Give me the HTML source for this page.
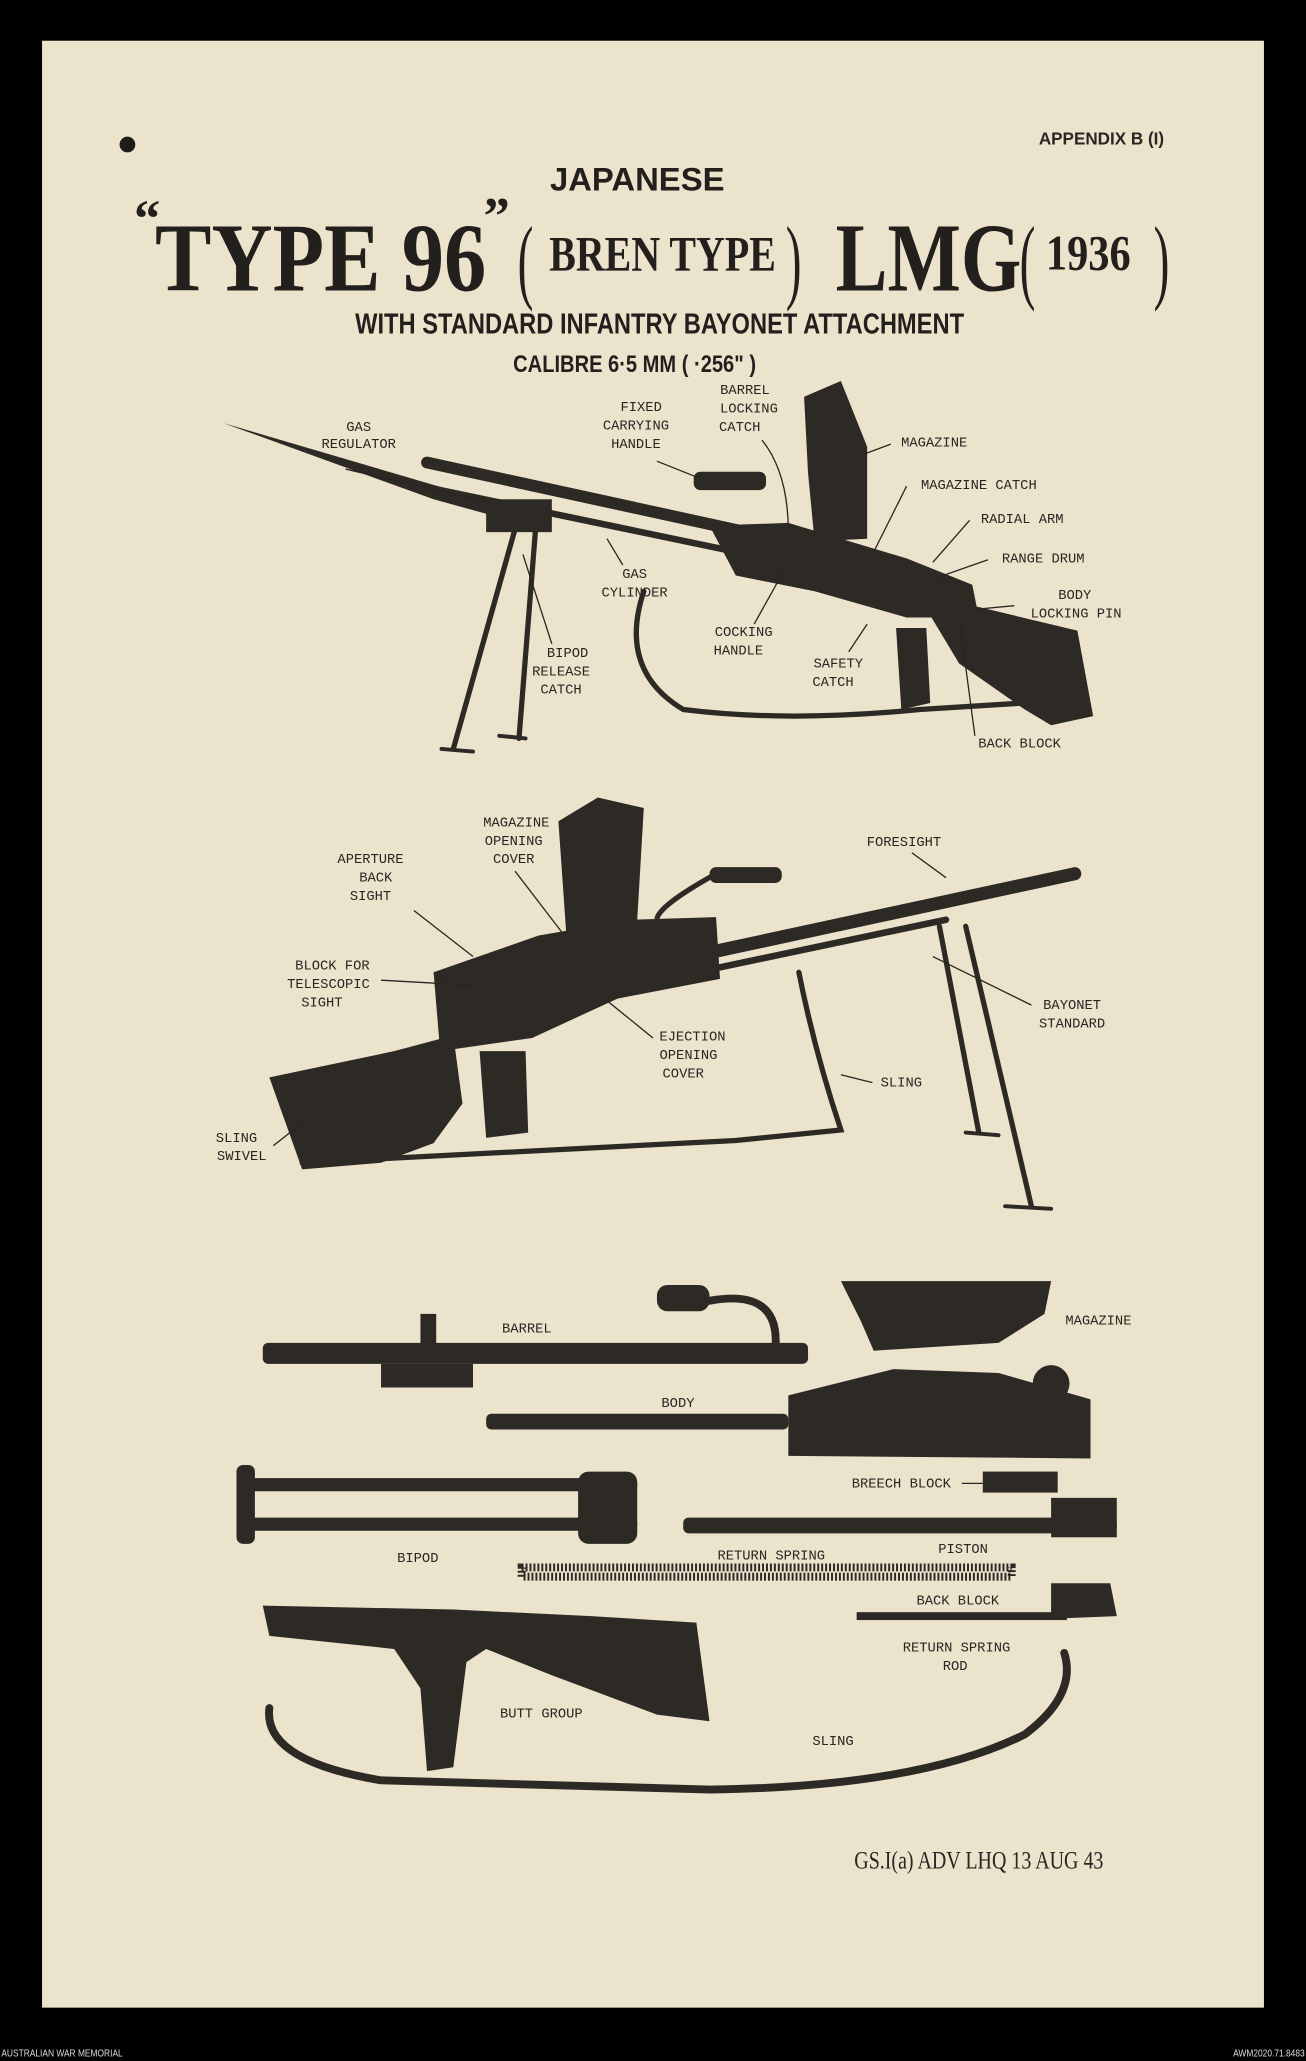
<!DOCTYPE html>
<html><head><meta charset="utf-8"><style>
html,body{margin:0;padding:0;background:#000;}
svg{display:block}
.l{font-family:"Liberation Mono",monospace;font-size:10.5px;fill:#2a2522;text-anchor:middle}
.ln{stroke:#2a2522;stroke-width:1;fill:none}
.g{fill:#2d2925}
.gs{stroke:#2d2925;fill:none;stroke-linecap:round}
</style></head><body>
<svg width="1306" height="2061" viewBox="0 0 994 1568.6" preserveAspectRatio="none" xmlns="http://www.w3.org/2000/svg">
<rect x="0" y="0" width="994" height="1568.6" fill="#000"/>
<rect x="32" y="31" width="930" height="1497" fill="#ece3cc"/>
<circle cx="97" cy="110" r="6" fill="#1e1b18"/>
<!-- titles -->
<text x="886" y="110" font-family="Liberation Sans,sans-serif" font-size="13" font-weight="bold" fill="#2a2522" text-anchor="end">APPENDIX B (I)</text>
<text x="485" y="145" font-family="Liberation Sans,sans-serif" font-size="25" font-weight="bold" fill="#231f1c" text-anchor="middle">JAPANESE</text>
<g font-family="Liberation Serif,serif" font-weight="bold" fill="#231f1c">
<text x="102" y="180" font-size="40">“</text>
<text transform="translate(118,221) scale(0.87,1)" font-size="74">TYPE 96</text>
<text x="368" y="178" font-size="40">”</text>
<text transform="translate(394,222) scale(0.5,1)" font-size="72" font-weight="normal">(</text>
<text transform="translate(418,206) scale(0.8,1)" font-size="38">BREN TYPE</text>
<text transform="translate(598,222) scale(0.5,1)" font-size="72" font-weight="normal">)</text>
<text transform="translate(636,221) scale(0.8,1)" font-size="74">LMG</text>
<text transform="translate(776,222) scale(0.5,1)" font-size="72" font-weight="normal">(</text>
<text transform="translate(796,205) scale(0.85,1)" font-size="38">1936</text>
<text transform="translate(878,222) scale(0.5,1)" font-size="72" font-weight="normal">)</text>
</g>
<text transform="translate(502,254) scale(0.82,1)" font-family="Liberation Sans,sans-serif" font-size="22" font-weight="bold" fill="#231f1c" text-anchor="middle">WITH STANDARD  INFANTRY  BAYONET ATTACHMENT</text>
<text transform="translate(483,283) scale(0.85,1)" font-family="Liberation Sans,sans-serif" font-size="18" font-weight="bold" fill="#231f1c" text-anchor="middle">CALIBRE  6·5 MM ( ·256" )</text>

<!-- GUN 1 -->
<g>
<polygon class="g" points="170,322 340,372 420,395 410,402 330,380"/>
<line class="gs" x1="325" y1="352" x2="600" y2="412" stroke-width="9"/>
<line class="gs" x1="330" y1="372" x2="560" y2="420" stroke-width="5"/>
<polygon class="g" points="540,400 600,398 690,425 740,445 745,470 690,470 620,450 560,438"/>
<polygon class="g" points="612,302 640,290 660,340 660,410 620,412 615,360"/>
<polygon class="g" points="700,455 745,462 820,480 832,545 800,552 780,540 730,505"/>
<polygon class="g" points="682,478 705,478 708,535 686,540"/>
<rect class="g" x="528" y="359" width="55" height="14" rx="5"/>
<line class="gs" x1="395" y1="392" x2="345" y2="570" stroke-width="4"/>
<line class="gs" x1="408" y1="398" x2="395" y2="562" stroke-width="4"/>
<rect class="g" x="370" y="380" width="50" height="25"/>
<path class="gs" d="M 490 450 Q 470 510 520 540 Q 600 550 700 540 L 780 535" stroke-width="4"/>
<line class="gs" x1="336" y1="570" x2="360" y2="572" stroke-width="3"/>
<line class="gs" x1="380" y1="560" x2="400" y2="562" stroke-width="3"/>
</g>
<text class="l" x="273" y="328">GAS</text><text class="l" x="273" y="341">REGULATOR</text>
<polyline class="ln" points="263,357 375,383"/>
<text class="l" x="488" y="313">FIXED</text><text class="l" x="484" y="327">CARRYING</text><text class="l" x="484" y="341">HANDLE</text>
<polyline class="ln" points="500,351 530,363"/>
<text class="l" x="567" y="300">BARREL</text><text class="l" x="570" y="314">LOCKING</text><text class="l" x="563" y="328">CATCH</text>
<path class="ln" d="M 580 335 Q 600 360 600 405"/>
<text class="l" x="711" y="340">MAGAZINE</text><line class="ln" x1="678" y1="338" x2="654" y2="347"/>
<text class="l" x="745" y="372">MAGAZINE CATCH</text><line class="ln" x1="690" y1="370" x2="665" y2="420"/>
<text class="l" x="778" y="398">RADIAL ARM</text><line class="ln" x1="738" y1="396" x2="710" y2="428"/>
<text class="l" x="794" y="428">RANGE DRUM</text><line class="ln" x1="752" y1="426" x2="712" y2="440"/>
<text class="l" x="818" y="456">BODY</text><text class="l" x="819" y="470">LOCKING PIN</text><line class="ln" x1="772" y1="461" x2="740" y2="464"/>
<text class="l" x="483" y="440">GAS</text><text class="l" x="483" y="454">CYLINDER</text><line class="ln" x1="474" y1="430" x2="462" y2="410"/>
<text class="l" x="432" y="500">BIPOD</text><text class="l" x="427" y="514">RELEASE</text><text class="l" x="427" y="528">CATCH</text>
<line class="ln" x1="420" y1="490" x2="398" y2="422"/>
<text class="l" x="566" y="484">COCKING</text><text class="l" x="562" y="498">HANDLE</text><line class="ln" x1="574" y1="475" x2="598" y2="432"/>
<text class="l" x="638" y="508">SAFETY</text><text class="l" x="634" y="522">CATCH</text><line class="ln" x1="646" y1="496" x2="660" y2="475"/>
<text class="l" x="776" y="569">BACK BLOCK</text><line class="ln" x1="742" y1="560" x2="730" y2="470"/>

<!-- GUN 2 -->
<g>
<line class="gs" x1="540" y1="725" x2="818" y2="665" stroke-width="10"/>
<line class="gs" x1="530" y1="740" x2="720" y2="700" stroke-width="5"/>
<polygon class="g" points="330,740 410,712 480,700 545,698 548,745 470,760 405,790 335,800"/>
<polygon class="g" points="425,625 455,607 490,615 485,700 432,725"/>
<polygon class="g" points="205,820 300,800 345,788 352,840 330,870 290,885 230,890"/>
<polygon class="g" points="365,800 400,800 402,862 370,866"/>
<path class="gs" d="M 500 700 Q 500 690 545 665" stroke-width="4"/>
<rect class="g" x="540" y="660" width="55" height="12" rx="5"/>
<line class="gs" x1="715" y1="705" x2="745" y2="862" stroke-width="4"/>
<line class="gs" x1="735" y1="705" x2="785" y2="918" stroke-width="4"/>
<line class="gs" x1="765" y1="918" x2="800" y2="920" stroke-width="3"/>
<line class="gs" x1="735" y1="862" x2="760" y2="864" stroke-width="3"/>
<path class="gs" d="M 608 740 Q 620 800 640 860 L 560 868 L 230 885" stroke-width="4"/>
</g>
<text class="l" x="393" y="629">MAGAZINE</text><text class="l" x="391" y="643">OPENING</text><text class="l" x="391" y="657">COVER</text>
<line class="ln" x1="392" y1="663" x2="428" y2="710"/>
<text class="l" x="688" y="644">FORESIGHT</text><line class="ln" x1="694" y1="649" x2="720" y2="668"/>
<text class="l" x="282" y="657">APERTURE</text><text class="l" x="286" y="671">BACK</text><text class="l" x="282" y="685">SIGHT</text>
<line class="ln" x1="315" y1="693" x2="360" y2="728"/>
<text class="l" x="253" y="738">BLOCK FOR</text><text class="l" x="250" y="752">TELESCOPIC</text><text class="l" x="245" y="766">SIGHT</text>
<line class="ln" x1="290" y1="746" x2="362" y2="750"/>
<text class="l" x="527" y="792">EJECTION</text><text class="l" x="524" y="806">OPENING</text><text class="l" x="520" y="820">COVER</text>
<line class="ln" x1="497" y1="790" x2="460" y2="760"/>
<text class="l" x="816" y="768">BAYONET</text><text class="l" x="816" y="782">STANDARD</text><line class="ln" x1="785" y1="765" x2="710" y2="728"/>
<text class="l" x="686" y="827">SLING</text><line class="ln" x1="664" y1="824" x2="640" y2="818"/>
<text class="l" x="180" y="869">SLING</text><text class="l" x="184" y="883">SWIVEL</text><line class="ln" x1="208" y1="872" x2="236" y2="850"/>

<!-- PARTS -->
<g>
<rect class="g" x="200" y="1022" width="415" height="16" rx="4"/>
<rect class="g" x="290" y="1038" width="70" height="18"/>
<rect class="g" x="320" y="1000" width="12" height="24"/>
<rect class="g" x="500" y="978" width="40" height="20" rx="8"/>
<path class="gs" d="M 540 990 Q 595 980 590 1028" stroke-width="6"/>
<polygon class="g" points="640,975 800,975 795,1000 760,1022 665,1028 655,1005"/>
<rect class="g" x="370" y="1076" width="230" height="12" rx="4"/>
<polygon class="g" points="600,1062 680,1042 760,1045 830,1065 830,1110 600,1108"/>
<circle class="g" cx="800" cy="1053" r="14"/>
<rect class="g" x="748" y="1120" width="57" height="16"/>
<rect class="g" x="185" y="1125" width="300" height="10" rx="4"/>
<rect class="g" x="180" y="1155" width="305" height="10" rx="4"/>
<rect class="g" x="440" y="1120" width="45" height="55" rx="8"/>
<rect class="g" x="180" y="1115" width="14" height="60" rx="5"/>
<rect class="g" x="520" y="1155" width="330" height="12" rx="4"/>
<rect class="g" x="800" y="1140" width="50" height="30"/>
<rect x="397" y="1193" width="373" height="7" fill="none" stroke="#2d2925" stroke-width="6" stroke-dasharray="1.5,1.5"/>
<rect class="g" x="652" y="1227" width="160" height="6"/>
<polygon class="g" points="800,1205 845,1205 850,1230 800,1232"/>
<polygon class="g" points="200,1222 345,1225 450,1230 530,1235 540,1310 500,1305 420,1275 370,1255 355,1265 345,1345 325,1348 320,1285 300,1255 205,1245"/>
<path class="gs" d="M 205 1300 Q 200 1340 290 1355 L 540 1362 Q 700 1360 780 1320 Q 820 1290 810 1258" stroke-width="6"/>
</g>
<text class="l" x="401" y="1014">BARREL</text>
<text class="l" x="836" y="1008">MAGAZINE</text>
<text class="l" x="516" y="1071">BODY</text>
<text class="l" x="686" y="1132">BREECH BLOCK</text><line class="ln" x1="732" y1="1129" x2="748" y2="1129"/>
<text class="l" x="318" y="1189">BIPOD</text>
<text class="l" x="587" y="1187">RETURN SPRING</text>
<text class="l" x="733" y="1182">PISTON</text>
<text class="l" x="729" y="1221">BACK BLOCK</text>
<text class="l" x="728" y="1257">RETURN SPRING</text><text class="l" x="727" y="1271">ROD</text>
<text class="l" x="412" y="1307">BUTT GROUP</text>
<text class="l" x="634" y="1328">SLING</text>
<text transform="translate(745,1422) scale(0.8,1)" font-family="Liberation Serif,serif" font-size="19" fill="#2a2522" text-anchor="middle">GS.I(a) ADV LHQ  13 AUG 43</text>
<text transform="translate(1,1565) scale(0.8,1)" font-family="Liberation Sans,sans-serif" font-size="8" fill="#ddd">AUSTRALIAN WAR MEMORIAL</text>
<text transform="translate(993,1565) scale(0.8,1)" font-family="Liberation Sans,sans-serif" font-size="8" fill="#ddd" text-anchor="end">AWM2020.71.8483</text>
</svg>
</body></html>
